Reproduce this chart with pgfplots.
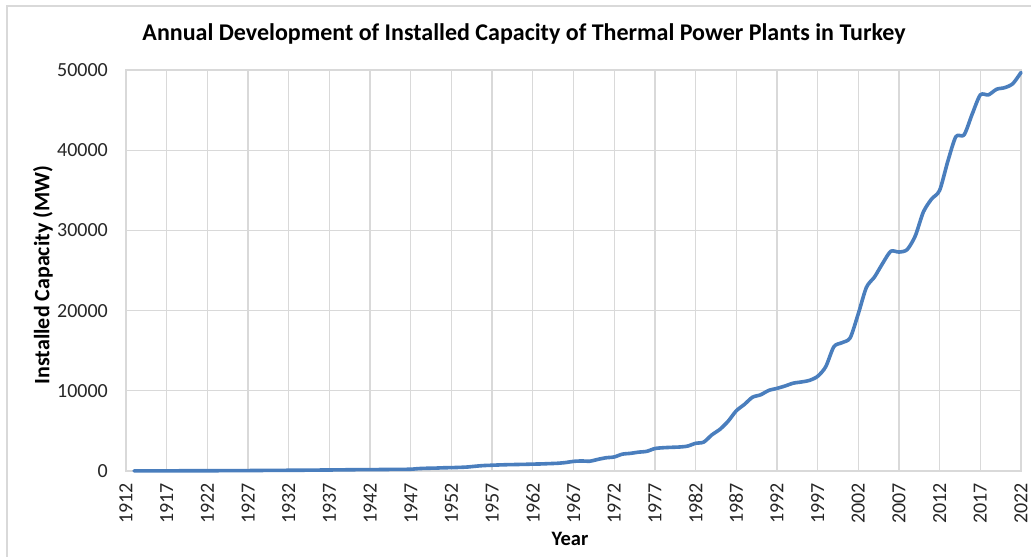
\documentclass[border=0pt]{standalone}
\usepackage{fontspec}
\setmainfont{Carlito}
\usepackage{pgfplots}
\pgfplotsset{compat=1.18}
\usepackage{pgfplotstable}
\definecolor{linecol}{HTML}{4A7EBD}
\definecolor{gridcol}{HTML}{D9D9D9}

\pgfplotstableread{
year value
1913 18
1914 18
1915 20
1916 20
1917 22
1918 24
1919 26
1920 30
1921 32
1922 34
1923 36
1924 40
1925 45
1926 50
1927 55
1928 60
1929 70
1930 75
1931 80
1932 90
1933 95
1934 100
1935 110
1936 120
1937 125
1938 140
1939 150
1940 160
1941 170
1942 175
1943 180
1944 190
1945 200
1946 210
1947 220
1948 300
1949 340
1950 360
1951 400
1952 420
1953 450
1954 500
1955 600
1956 680
1957 720
1958 760
1959 790
1960 810
1961 830
1962 860
1963 880
1964 920
1965 960
1966 1050
1967 1200
1968 1250
1969 1220
1970 1450
1971 1650
1972 1750
1973 2100
1974 2200
1975 2350
1976 2450
1977 2800
1978 2900
1979 2950
1980 2990
1981 3100
1982 3450
1983 3600
1984 4500
1985 5200
1986 6200
1987 7500
1988 8300
1989 9200
1990 9500
1991 10050
1992 10300
1993 10600
1994 10950
1995 11100
1996 11300
1997 11800
1998 13000
1999 15500
2000 16000
2001 16600
2002 19600
2003 22900
2004 24200
2005 25900
2006 27400
2007 27300
2008 27600
2009 29300
2010 32300
2011 33900
2012 35000
2013 38600
2014 41700
2015 41900
2016 44500
2017 46900
2018 46900
2019 47600
2020 47800
2021 48300
2022 49700
}\datatable

\begin{document}
\begin{tikzpicture}[x=1pt,y=1pt]
\useasboundingbox (0,0) rectangle (1031,557);
\fill[white] (0,0) rectangle (1031,557);
\draw[gridcol, line width=1.5pt] (7,0) -- (7,551) -- (1031,551);
\begin{axis}[
  at={(126pt,86pt)}, anchor=south west,
  scale only axis, width=895pt, height=401pt,
  xmin=1912, xmax=2022, ymin=0, ymax=50000,
  xtick={1912,1917,...,2022},
  ytick={0,10000,...,50000},
  scaled ticks=false,
  /pgf/number format/1000 sep={},
  /pgf/number format/assume math mode=true,
  grid=major,
  major grid style={gridcol, line width=1.3pt},
  axis line style={gridcol, line width=1.3pt},
  major tick length=0pt,
  tick label style={font=\fontsize{20}{24}\selectfont, text=black!85},
  xticklabel style={rotate=90, anchor=east, inner sep=0pt, xshift=-12pt},
  yticklabel style={anchor=east, inner sep=0pt, xshift=-18pt},
  clip=false,
]
\addplot[linecol, line width=3.6pt, smooth, tension=0.45, line cap=round, line join=round] table[x=year,y=value]{\datatable};
\end{axis}
\node[anchor=base, font=\bfseries\fontsize{24}{28}\selectfont] at (524,516) {Annual Development of Installed Capacity of Thermal Power Plants in Turkey};
\node[rotate=90, anchor=center, font=\bfseries\fontsize{22}{26}\selectfont] at (43,282) {Installed Capacity (MW)};
\node[anchor=base, font=\bfseries\fontsize{20.5}{24}\selectfont] at (570,11) {Year};
\end{tikzpicture}
\end{document}
